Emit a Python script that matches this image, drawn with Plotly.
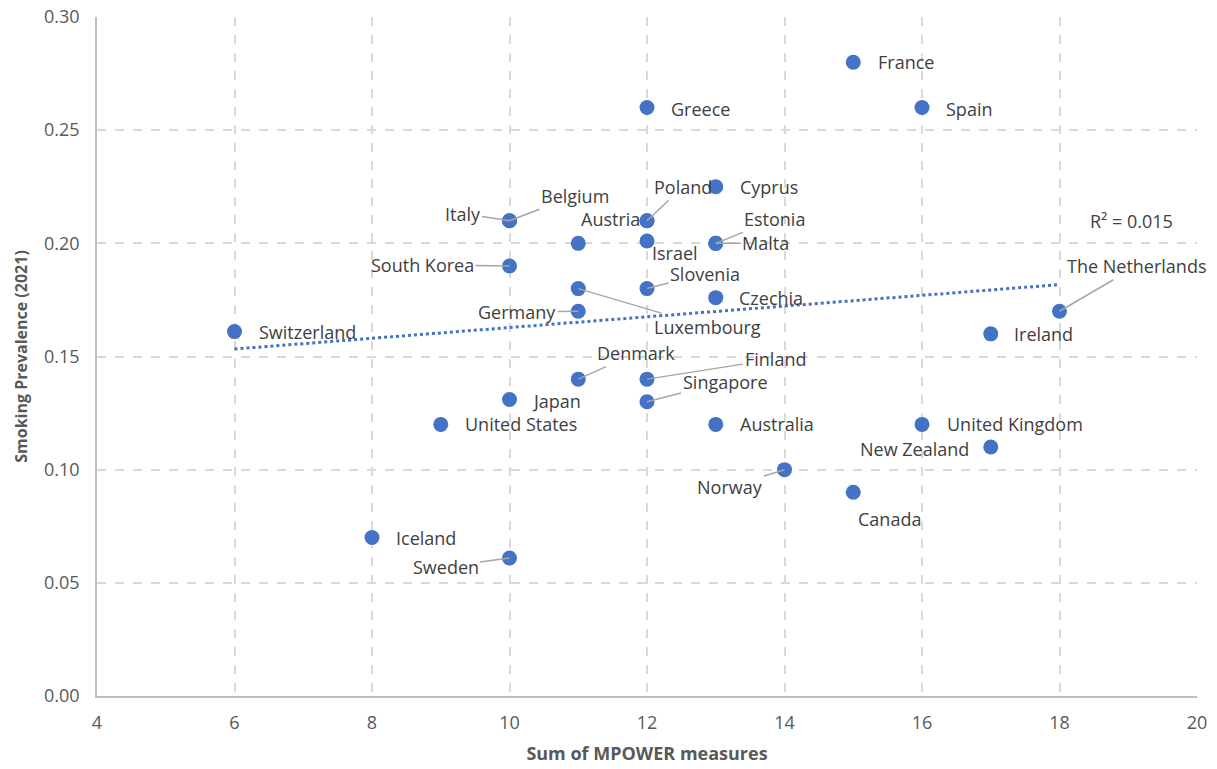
import numpy as np
import plotly.graph_objects as go

# ---- data ----
countries = ["Switzerland", "Iceland", "United States", "Italy", "Belgium", "South Korea",
             "Japan", "Sweden", "", "Luxembourg", "Germany", "Denmark", "Greece", "Austria",
             "Poland", "Israel", "Slovenia", "Finland", "Singapore", "Cyprus", "Estonia",
             "Malta", "Czechia", "Australia", "Norway", "France", "Canada", "Spain",
             "United Kingdom", "New Zealand", "Ireland", "The Netherlands"]
mpower = [6, 8, 9, 10, 10, 10, 10, 10, 11, 11, 11, 11, 12, 12, 12, 12, 12, 12, 12, 13, 13,
          13, 13, 13, 14, 15, 15, 16, 16, 17, 17, 18]
prevalence = [0.161, 0.070, 0.120, 0.210, 0.210, 0.190, 0.131, 0.061, 0.200, 0.180, 0.170,
              0.140, 0.260, 0.210, 0.210, 0.201, 0.180, 0.140, 0.130, 0.225, 0.200, 0.200,
              0.176, 0.120, 0.100, 0.280, 0.090, 0.260, 0.120, 0.110, 0.160, 0.170]
r2_text = "R² = 0.015"
x_ticks = [4, 6, 8, 10, 12, 14, 16, 18, 20]
y_ticks = [0.00, 0.05, 0.10, 0.15, 0.20, 0.25, 0.30]

# ---- label placement (pixel offsets from point, leader line flag) ----
label_style = {
    "Switzerland": (73, 0, False), "Iceland": (54, 0, False), "United States": (80, 0, False),
    "Italy": (-47, -7, True), "Belgium": (65, -25, True), "South Korea": (-87, -1, True),
    "Japan": (47, 1, False), "Sweden": (-64, 9, True), "Luxembourg": (129, 38, True),
    "Germany": (-61, 1, True), "Denmark": (58, -26, True), "Greece": (53, 1, False),
    "Austria": (-37, -2, False), "Poland": (36, -34, True), "Israel": (28, 12, False),
    "Slovenia": (58, -15, True), "Finland": (128, -20, True), "Singapore": (78, -20, True),
    "Cyprus": (53, 0, False), "Estonia": (59, -24, True), "Malta": (50, 0, True),
    "Czechia": (55, 0, False), "Australia": (61, 0, False), "Norway": (-55, 17, True),
    "France": (53, 0, False), "Canada": (36, 27, False), "Spain": (47, 1, False),
    "United Kingdom": (93, 0, False), "New Zealand": (-76, 2, False), "Ireland": (53, 0, False),
    "The Netherlands": (77, -45, True),
}

FONT = "Open Sans"
BLUE = "#4472C4"
TEXT = "#404040"
GRID = "#D9D9D9"

fig = go.Figure()

# trend line (linear fit of the data)
slope, intercept = np.polyfit(mpower, prevalence, 1)
tx = np.array([min(mpower), max(mpower)])
fig.add_trace(go.Scatter(x=tx, y=slope * tx + intercept, mode="lines",
                         line=dict(color=BLUE, width=3, dash="dot"),
                         hoverinfo="skip", showlegend=False))

fig.add_trace(go.Scatter(x=mpower, y=prevalence, mode="markers",
                         marker=dict(color=BLUE, size=15),
                         text=countries, showlegend=False))

for name, x, y in zip(countries, mpower, prevalence):
    if not name:
        continue
    dx, dy, line = label_style[name]
    fig.add_annotation(x=x, y=y, text=name, showarrow=True, ax=dx, ay=dy,
                       arrowhead=0, arrowwidth=1.5, standoff=0,
                       arrowcolor="#A6A6A6" if line else "rgba(0,0,0,0)",
                       font=dict(family=FONT, size=18, color=TEXT))

fig.add_annotation(x=19.05, y=0.21, text=r2_text, showarrow=False,
                   font=dict(family=FONT, size=18, color=TEXT))

fig.update_layout(
    width=1217, height=769,
    margin=dict(l=97, r=20, t=17, b=73),
    plot_bgcolor="white", paper_bgcolor="white",
    font=dict(family=FONT, color="#595959"),
)
fig.update_xaxes(range=[4, 20], tickvals=x_ticks, showgrid=True, gridcolor=GRID,
                 griddash="dash", gridwidth=1.5, zeroline=False, automargin=False,
                 showline=True, linecolor="#BFBFBF", linewidth=1.5,
                 ticklabelstandoff=10,
                 tickfont=dict(size=18, color="#595959"),
                 title=dict(text="<b>Sum of MPOWER measures</b>",
                            font=dict(size=18, color="#595959"), standoff=14))
fig.update_yaxes(range=[0, 0.30], tickvals=y_ticks, tickformat=".2f", showgrid=True,
                 gridcolor=GRID, griddash="dash", gridwidth=1.5, zeroline=False,
                 automargin=False, ticklabelstandoff=12,
                 showline=True, linecolor="#BFBFBF", linewidth=1.5,
                 tickfont=dict(size=18, color="#595959"),
                 title=dict(text="<b>Smoking Prevalence (2021)</b>",
                            font=dict(size=16, color="#595959"), standoff=12))

fig.write_html("out.html")
